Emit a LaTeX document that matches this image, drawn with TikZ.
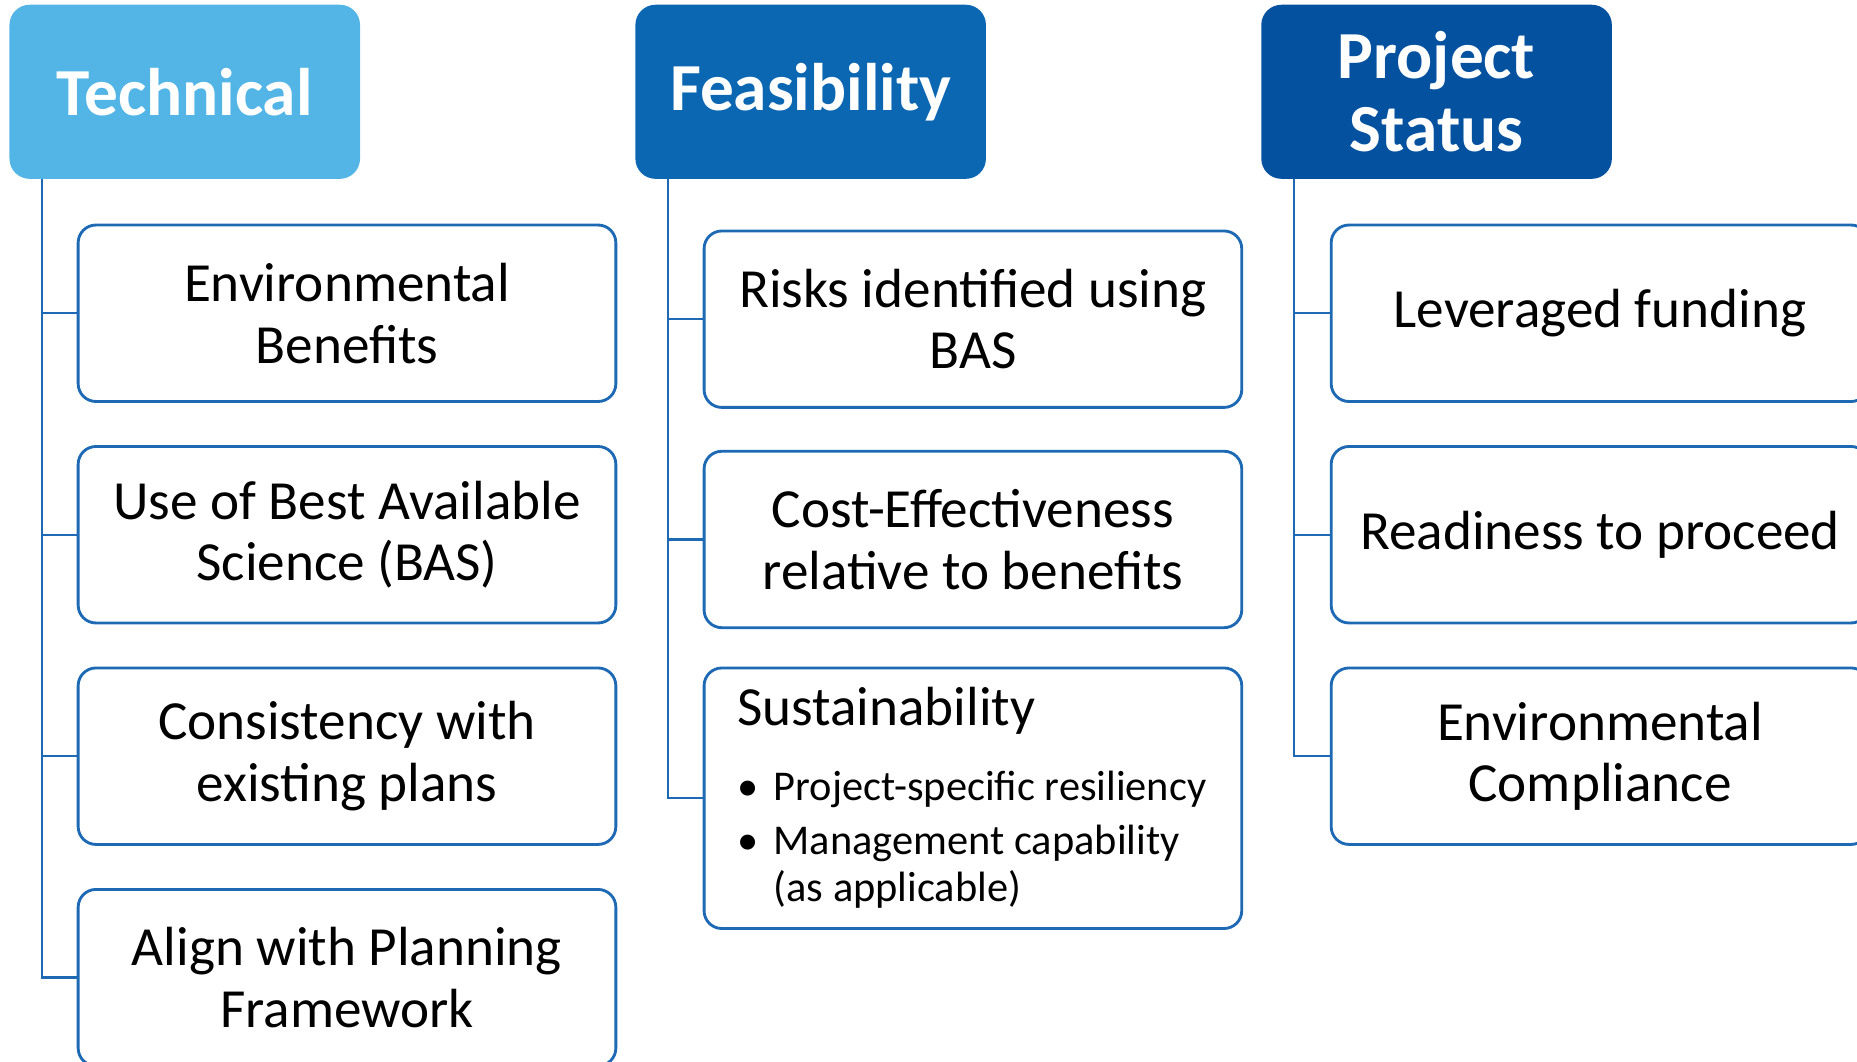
\documentclass[tikz,border=0pt]{standalone}
\usepackage[dvipsnames]{xcolor}
\usepackage{tikz}
\usepackage{fontspec}
\setmainfont{Carlito}
\definecolor{TechBlue}{HTML}{53B5E6}
\definecolor{FeasBlue}{HTML}{0B67B2}
\definecolor{StatBlue}{HTML}{04529F}
\definecolor{LineBlue}{HTML}{1D69B4}

\begin{document}
\begin{tikzpicture}[x = 0.5pt, y = -0.5pt,
    head/.style = {rounded corners = 8.5pt, minimum width = 148pt, minimum height = 73.5pt,
      text = white, align = center, inner sep = 0pt, font = \bfseries\fontsize{28.4}{31}\selectfont},
    item/.style = {draw = LineBlue, line width = 1.2pt, fill = white, rounded corners = 7.5pt,
      minimum width = 227pt, minimum height = 74.5pt, align = center, inner sep = 0pt,
      font = \fontsize{23.3}{26}\selectfont},
    link/.style = {draw = LineBlue, line width = 1pt}]
  \useasboundingbox (0, 0) rectangle (1568, 896);
  % headers
  \node [head, fill = TechBlue] (tech) at (156, 77.5) {Technical};
  \node [head, fill = FeasBlue] (feas) at (684.5, 77.5) {Feasibility};
  \node [head, fill = StatBlue] (stat) at (1213, 77.5) {Project\\Status};
  % technical column
  \node [item] (t1) at (293, 264.5) {Environmental\\Benefits};
  \node [item] (t2) at (293, 451.5) {Use of Best Available\\Science (BAS)};
  \node [item] (t3) at (293, 638.5) {Consistency with\\existing plans};
  \node [item] (t4) at (293, 825.5) {Align with Planning\\Framework};
  % feasibility column
  \node [item, align = left, minimum height = 110pt, text width = 199pt, inner xsep = 14pt]
    (f3) at (821.5, 674) {\rule[-6pt]{0pt}{25pt}Sustainability\par\nointerlineskip\vskip 11.5pt
    {\fontsize{17.9}{20}\selectfont\spaceskip = 0pt\relax
    \begin{tabular}[t]{@{}l@{\hspace{6.5pt}}l@{}}
      \textbullet & Project-specific resiliency\\[3pt]
      \textbullet & Management capability\\
      & (as applicable)
    \end{tabular}\par}};
  \node [item] (f1) at (821.5, 269.5) {Risks identified using\\BAS};
  \node [item] (f2) at (821.5, 455.5) {Cost-Effectiveness\\relative to benefits};
  % project status column
  \node [item] (s1) at (1351, 264.5) {Leveraged funding};
  \node [item] (s2) at (1351, 451.5) {Readiness to proceed};
  \node [item] (s3) at (1351, 638.5) {Environmental\\Compliance};
  % connectors
  \foreach \b in {t1, t2, t3, t4}
    \draw [link] ([xshift = 14pt]tech.south west) |- (\b.west);
  \foreach \b in {f1, f2, f3}
    \draw [link] ([xshift = 14pt]feas.south west) |- (\b.west);
  \foreach \b in {s1, s2, s3}
    \draw [link] ([xshift = 14pt]stat.south west) |- (\b.west);
\end{tikzpicture}
\end{document}
